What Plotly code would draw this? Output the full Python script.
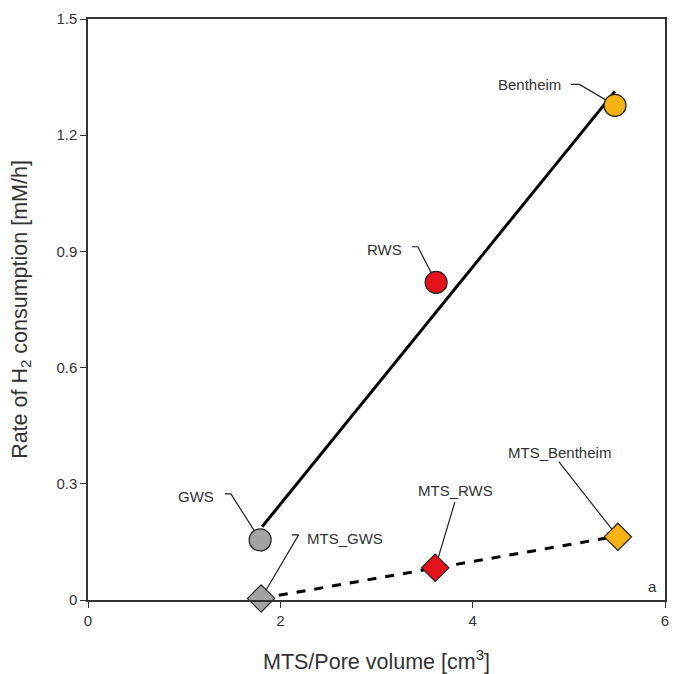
import plotly.graph_objects as go

# Data
circle_names = ["GWS", "RWS", "Bentheim"]
circle_x = [1.79, 3.62, 5.48]
circle_y = [0.155, 0.82, 1.277]
circle_colors = ["#a3a3a3", "#e3121b", "#f6b115"]

diamond_names = ["MTS_GWS", "MTS_RWS", "MTS_Bentheim"]
diamond_x = [1.80, 3.61, 5.51]
diamond_y = [0.004, 0.083, 0.163]
diamond_colors = ["#a3a3a3", "#e3121b", "#f6b115"]

fit_x = [1.81, 5.48]
fit_y = [0.189, 1.313]
mts_fit_x = [1.80, 5.51]
mts_fit_y = [0.004, 0.165]

# label positions (text centre) and leader-line start points
circle_label_pos = [(1.123, 0.266), (3.087, 0.904), (4.595, 1.331)]
circle_leader = [[(1.424, 0.274), (1.486, 0.274)],
                 [(3.368, 0.912), (3.430, 0.912)],
                 [(5.02, 1.331), (5.11, 1.331)]]
diamond_label_pos = [(2.672, 0.160), (3.825, 0.282), (4.906, 0.382)]
diamond_leader = [[(2.12, 0.168), (2.19, 0.168)],
                  [(3.815, 0.253)],
                  [(4.896, 0.357)]]

x_ticks = [0, 2, 4, 6]
y_ticks = [0, 0.3, 0.6, 0.9, 1.2, 1.5]
y_tick_text = ["0", "0.3", "0.6", "0.9", "1.2", "1.5"]

FONT = "Liberation Sans, Arial"
TXT = "#333333"

fig = go.Figure()

# regression lines
fig.add_trace(go.Scatter(x=fit_x, y=fit_y, mode="lines", cliponaxis=False,
                         line=dict(color="black", width=3), hoverinfo="skip"))
fig.add_trace(go.Scatter(x=mts_fit_x, y=mts_fit_y, mode="lines", cliponaxis=False,
                         line=dict(color="black", width=3, dash="dash"), hoverinfo="skip"))

# leader lines
for pts, px, py in zip(circle_leader, circle_x, circle_y):
    xs = [p[0] for p in pts] + [px]
    ys = [p[1] for p in pts] + [py]
    fig.add_trace(go.Scatter(x=xs, y=ys, mode="lines", cliponaxis=False,
                             line=dict(color="#222222", width=1.2), hoverinfo="skip"))
for pts, px, py in zip(diamond_leader, diamond_x, diamond_y):
    xs = [p[0] for p in pts] + [px]
    ys = [p[1] for p in pts] + [py]
    fig.add_trace(go.Scatter(x=xs, y=ys, mode="lines", cliponaxis=False,
                             line=dict(color="#222222", width=1.2), hoverinfo="skip"))

# markers
fig.add_trace(go.Scatter(x=circle_x, y=circle_y, mode="markers", cliponaxis=False,
                         marker=dict(symbol="circle", size=22, color=circle_colors,
                                     line=dict(color="#222222", width=1.2))))
fig.add_trace(go.Scatter(x=diamond_x, y=diamond_y, mode="markers", cliponaxis=False,
                         marker=dict(symbol="diamond", size=21, color=diamond_colors,
                                     line=dict(color="#222222", width=1.2))))

annotations = []
for name, (lx, ly) in zip(circle_names + diamond_names, circle_label_pos + diamond_label_pos):
    annotations.append(dict(x=lx, y=ly, text=name, showarrow=False,
                            font=dict(family=FONT, size=15, color=TXT)))
annotations.append(dict(x=1, y=0, xref="paper", yref="paper", text="a", showarrow=False,
                        xanchor="right", yanchor="bottom", xshift=-6, yshift=3,
                        font=dict(family=FONT, size=15, color=TXT)))

fig.update_layout(
    width=677, height=674,
    margin=dict(l=88, r=12, t=19, b=74),
    paper_bgcolor="white", plot_bgcolor="white",
    showlegend=False,
    font=dict(family=FONT, color=TXT),
    annotations=annotations,
    xaxis=dict(range=[0, 6], tickvals=x_ticks, ticks="outside", ticklen=6, tickwidth=1.2,
               tickcolor="#333333", showline=True, linecolor="#333333", linewidth=1.5,
               mirror=True, showgrid=False, zeroline=False, automargin=False,
               tickfont=dict(size=15, color=TXT),
               title=dict(text="MTS/Pore volume [cm<sup>3</sup>]", font=dict(size=21.5, color=TXT),
                          standoff=26)),
    yaxis=dict(range=[0, 1.5], tickvals=y_ticks, ticktext=y_tick_text, ticks="outside", ticklen=6,
               tickwidth=1.2, tickcolor="#333333", showline=True, linecolor="#333333", linewidth=1.5,
               mirror=True, showgrid=False, zeroline=False, automargin=False,
               tickfont=dict(size=15, color=TXT),
               title=dict(text="Rate of H<sub>2</sub> consumption [mM/h]", font=dict(size=21.5, color=TXT),
                          standoff=23)),
)

fig.write_html("out.html")
